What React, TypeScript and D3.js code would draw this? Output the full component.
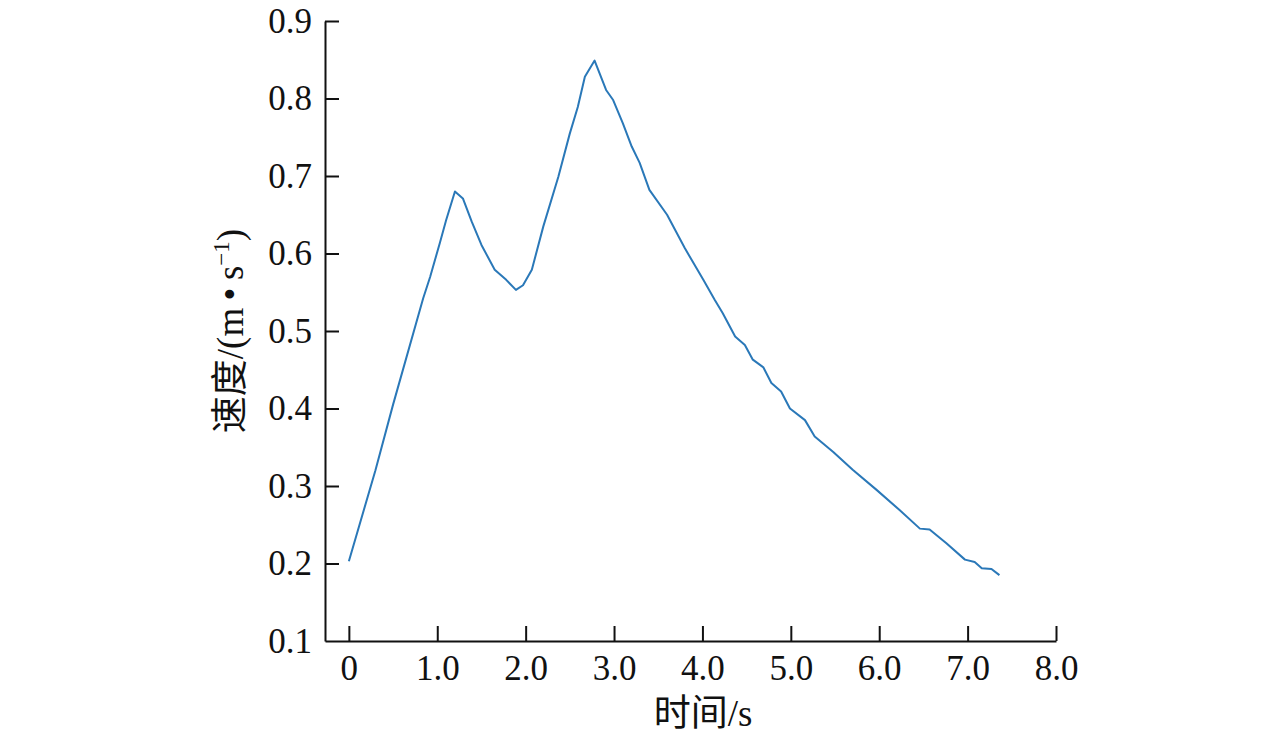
import { select, scaleLinear, axisLeft, axisBottom, line as d3Line, curveLinear } from "d3";
import { useEffect, useRef } from "react";

// time (s) and speed (m/s)
const times = [
  0, 0.3, 0.5, 0.84, 0.92, 1.03, 1.1, 1.2, 1.29, 1.39, 1.5, 1.65, 1.78, 1.89,
  1.97, 2.07, 2.2, 2.37, 2.5, 2.59, 2.67, 2.78, 2.91, 2.99, 3.1, 3.2, 3.29,
  3.4, 3.6, 3.8, 4.01, 4.14, 4.23, 4.37, 4.48, 4.57, 4.69, 4.78, 4.89, 4.99,
  5.16, 5.27, 5.48, 5.7, 5.97, 6.23, 6.46, 6.57, 6.76, 6.97, 7.08, 7.16, 7.27,
  7.36,
];
const speeds = [
  0.203, 0.32, 0.405, 0.542, 0.57, 0.614, 0.643, 0.68, 0.671, 0.641, 0.611,
  0.579, 0.566, 0.553, 0.559, 0.579, 0.635, 0.699, 0.755, 0.789, 0.828, 0.849,
  0.811, 0.798, 0.768, 0.738, 0.717, 0.682, 0.65, 0.607, 0.566, 0.54, 0.523,
  0.493, 0.482, 0.463, 0.453, 0.433, 0.422, 0.4, 0.385, 0.364, 0.344, 0.321,
  0.295, 0.269, 0.245, 0.244, 0.226, 0.205, 0.202, 0.194, 0.193, 0.185,
];
const xTicks = [0, 1, 2, 3, 4, 5, 6, 7, 8];
const yTicks = [0.1, 0.2, 0.3, 0.4, 0.5, 0.6, 0.7, 0.8, 0.9];

const W = 1276;
const H = 739;
const FONT = '"Liberation Serif", "Times New Roman", "Noto Sans CJK SC", serif';

export default function App() {
  const ref = useRef<SVGSVGElement | null>(null);

  useEffect(() => {
    if (!ref.current) return;
    const svg = select(ref.current);
    svg.selectAll("*").remove();

    const x = scaleLinear().domain([-0.27, 8]).range([325, 1056]);
    const y = scaleLinear().domain([0.1, 0.9]).range([641, 21]);

    // y axis, ticks pointing inward
    const gy = svg
      .append("g")
      .attr("transform", `translate(${x(-0.27)},0)`)
      .call(
        axisLeft(y)
          .tickValues(yTicks)
          .tickSizeInner(-14)
          .tickSizeOuter(0)
          .tickPadding(13)
          .tickFormat((d: any) => (+d).toFixed(1))
      );

    const gx = svg
      .append("g")
      .attr("transform", `translate(0,${y(0.1)})`)
      .call(
        axisBottom(x)
          .tickValues(xTicks)
          .tickSizeInner(-15)
          .tickSizeOuter(0)
          .tickPadding(14)
          .tickFormat((d: any) => (d === 0 ? "0" : (+d).toFixed(1)))
      );

    [gx, gy].forEach((g) => {
      g.selectAll("path, line").attr("stroke", "#111").attr("stroke-width", 2);
      g.selectAll("text")
        .attr("fill", "#111")
        .style("font-family", FONT)
        .style("font-size", "35px");
    });
    gy.selectAll(".tick line").filter((d: any) => d === 0.1).remove();

    const pts = times.map((t, i) => [t, speeds[i]] as [number, number]);
    const line = d3Line<[number, number]>()
      .x((d) => x(d[0]))
      .y((d) => y(d[1]))
      .curve(curveLinear);

    svg
      .append("path")
      .attr("d", line(pts)!)
      .attr("fill", "none")
      .attr("stroke", "#2a78b8")
      .attr("stroke-width", 2)
      .attr("stroke-linejoin", "round");

    // axis titles
    svg
      .append("text")
      .attr("x", 703)
      .attr("y", 726)
      .attr("text-anchor", "middle")
      .attr("fill", "#111")
      .style("font-family", FONT)
      .style("font-size", "37px")
      .text("时间/s");

    const yt = svg
      .append("text")
      .attr("transform", "translate(243,331) rotate(-90)")
      .attr("text-anchor", "middle")
      .attr("fill", "#111")
      .style("font-family", FONT)
      .style("font-size", "37px");
    yt.append("tspan").text("速度/(m\u2009\u2022\u2009s");
    yt.append("tspan").attr("dy", -14).style("font-size", "23px").text("\u22121");
    yt.append("tspan").attr("dy", 14).text(")");
  }, []);

  return (
    <svg
      ref={ref}
      width={W}
      height={H}
      style={{ position: "absolute", left: 0, top: 0, background: "#fff" }}
    ></svg>
  );
}
